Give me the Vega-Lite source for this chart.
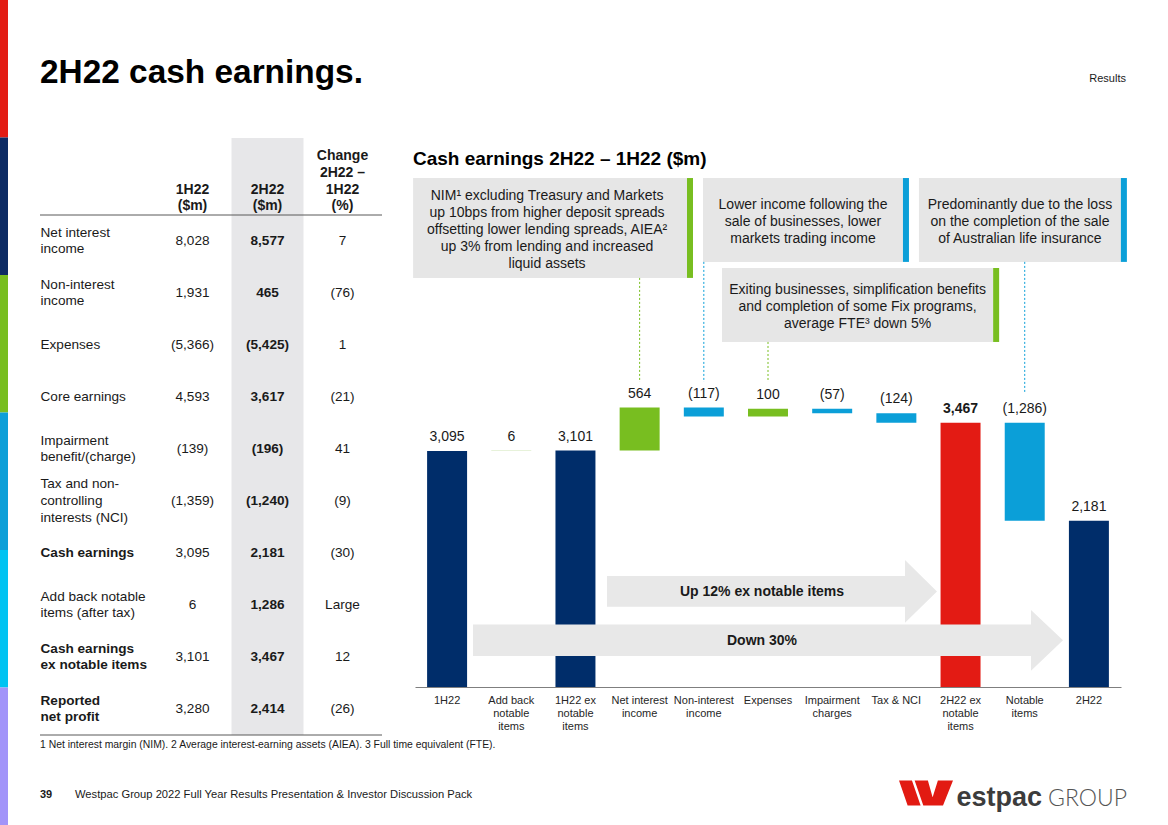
{
  "$schema": "https://vega.github.io/schema/vega-lite/v6.json",
  "background": "white",
  "padding": 0,
  "bounds": "flush",
  "spacing": 32,
  "resolve": {"scale": {"color": "independent"}},
  "config": {"view": {"stroke": null}, "font": "Liberation Sans"},
  "datasets": {
    "blank": [{}],
    "strip": [{"segment": "red"}, {"segment": "navy"}, {"segment": "green"}, {"segment": "blue"}, {"segment": "cyan"}, {"segment": "purple"}],
    "waterfall": [
      {"cat": "1H22", "lo": 0, "hi": 3095, "delta": 3095, "kind": "total"},
      {"cat": "Add back|notable|items", "lo": 3095, "hi": 3101, "delta": 6, "kind": "addback"},
      {"cat": "1H22 ex|notable|items", "lo": 0, "hi": 3101, "delta": 3101, "kind": "total"},
      {"cat": "Net interest|income", "lo": 3101, "hi": 3665, "delta": 564, "kind": "increase"},
      {"cat": "Non-interest|income", "lo": 3548, "hi": 3665, "delta": -117, "kind": "decrease"},
      {"cat": "Expenses", "lo": 3548, "hi": 3648, "delta": 100, "kind": "increase"},
      {"cat": "Impairment|charges", "lo": 3591, "hi": 3648, "delta": -57, "kind": "decrease"},
      {"cat": "Tax & NCI", "lo": 3467, "hi": 3591, "delta": -124, "kind": "decrease"},
      {"cat": "2H22 ex|notable|items", "lo": 0, "hi": 3467, "delta": 3467, "kind": "total ex notable"},
      {"cat": "Notable|items", "lo": 2181, "hi": 3467, "delta": -1286, "kind": "decrease"},
      {"cat": "2H22", "lo": 0, "hi": 2181, "delta": 2181, "kind": "total"}
    ],
    "table": [
      {"item": "Net interest|income", "h1": 8028, "h2": 8577, "chg": "7"},
      {"item": "Non-interest|income", "h1": 1931, "h2": 465, "chg": "(76)"},
      {"item": "Expenses", "h1": -5366, "h2": -5425, "chg": "1"},
      {"item": "Core earnings", "h1": 4593, "h2": 3617, "chg": "(21)"},
      {"item": "Impairment|benefit/(charge)", "h1": -139, "h2": -196, "chg": "41"},
      {"item": "Tax and non-|controlling|interests (NCI)", "h1": -1359, "h2": -1240, "chg": "(9)"},
      {"item": "Cash earnings", "h1": 3095, "h2": 2181, "chg": "(30)"},
      {"item": "Add back notable|items (after tax)", "h1": 6, "h2": 1286, "chg": "Large"},
      {"item": "Cash earnings|ex notable items", "h1": 3101, "h2": 3467, "chg": "12"},
      {"item": "Reported|net profit", "h1": 3280, "h2": 2414, "chg": "(26)"}
    ]
  },
  "hconcat": [
    {
      "width": 8,
      "height": 825,
      "data": {"name": "strip"},
      "mark": {"type": "rect"},
      "encoding": {
        "y": {"field": "segment", "type": "nominal", "sort": null, "scale": {"paddingInner": 0, "paddingOuter": 0}, "axis": null},
        "color": {"field": "segment", "type": "nominal", "scale": {"domain": ["red", "navy", "green", "blue", "cyan", "purple"], "range": ["#e31c13", "#0d2b64", "#78be20", "#0d9fd8", "#00c3f2", "#a294f9"]}, "legend": null}
      }
    },
    {
      "vconcat": [
        {
          "width": 1088,
          "height": 134,
          "layer": [
            {
              "data": {"values": [{"text": "2H22 cash earnings.", "side": "left"}]},
              "mark": {"type": "text", "align": "left", "baseline": "alphabetic", "fontSize": 33.4, "fontWeight": "bold", "color": "#000000", "dy": 16},
              "encoding": {
                "x": {"field": "side", "type": "nominal", "scale": {"type": "point", "domain": ["left", "right"], "padding": 0}, "axis": null},
                "text": {"field": "text"}
              }
            },
            {
              "data": {"values": [{"text": "Results", "side": "right"}]},
              "mark": {"type": "text", "align": "right", "baseline": "alphabetic", "fontSize": 11, "color": "#1a1a1a", "dy": 15, "dx": -2},
              "encoding": {
                "x": {"field": "side", "type": "nominal", "axis": null},
                "text": {"field": "text"}
              }
            }
          ]
        },
        {
          "hconcat": [
            {
              "width": 342,
              "height": 597,
              "layer": [
                {
                  "data": {"name": "blank"},
                  "mark": {"type": "rect", "color": "#e7e7e9"},
                  "encoding": {"x": {"datum": "h2", "type": "nominal"}}
                },
                {
                  "data": {"name": "blank"},
                  "mark": {"type": "rule", "color": "#595959", "strokeWidth": 1},
                  "encoding": {"y": {"datum": "Net interest|income", "type": "nominal", "bandPosition": 0}}
                },
                {
                  "data": {"name": "blank"},
                  "mark": {"type": "rule", "color": "#595959", "strokeWidth": 1},
                  "encoding": {"y": {"datum": "Reported|net profit", "type": "nominal", "bandPosition": 1}}
                },
                {
                  "data": {"name": "table"},
                  "mark": {"type": "text", "fontSize": 13.6, "color": "#1a1a1a", "baseline": "middle"},
                  "encoding": {
                    "x": {
                      "datum": "h1", "type": "nominal",
                      "scale": {"domain": ["h1", "h2", "chg"], "range": [115, 340], "paddingInner": 0.04, "paddingOuter": 0.02},
                      "axis": {
                        "orient": "top", "offset": -68, "title": null, "ticks": false, "domain": false, "labelAngle": 0, "labelAlign": "center",
                        "labelPadding": {"condition": {"test": "datum.value == 'chg'", "value": 50.1}, "value": 16.7},
                        "labelExpr": "datum.value == 'h1' ? ['1H22','($m)'] : datum.value == 'h2' ? ['2H22','($m)'] : ['Change','2H22 –','1H22','(%)']",
                        "labelFontSize": 14, "labelFontWeight": "bold", "labelColor": "#1a1a1a", "labelLineHeight": 16.7, "labelBaseline": "middle", "labelOverlap": false
                      }
                    },
                    "y": {
                      "field": "item", "type": "nominal",
                      "scale": {"domain": ["Net interest|income", "Non-interest|income", "Expenses", "Core earnings", "Impairment|benefit/(charge)", "Tax and non-|controlling|interests (NCI)", "Cash earnings", "Add back notable|items (after tax)", "Cash earnings|ex notable items", "Reported|net profit"], "range": [77, 597], "paddingInner": 0, "paddingOuter": 0},
                      "axis": {
                        "orient": "left", "title": null, "ticks": false, "domain": false, "labelAlign": "left", "labelPadding": 0,
                        "labelExpr": "split(datum.value, '|')", "labelFontSize": 13.6, "labelColor": "#1a1a1a", "labelLineHeight": 16.7, "labelBaseline": "middle", "labelOverlap": false,
                        "labelOffset": {"condition": [{"test": "length(split(datum.value, '|')) == 3", "value": -16.7}, {"test": "length(split(datum.value, '|')) == 2", "value": -8.35}], "value": 0},
                        "labelFontWeight": {"condition": {"test": "indexof(['Cash earnings','Cash earnings|ex notable items','Reported|net profit'], datum.value) >= 0", "value": "bold"}, "value": "normal"}
                      }
                    },
                    "text": {"field": "h1", "type": "quantitative", "format": "(,.0f"}
                  }
                },
                {
                  "data": {"name": "table"},
                  "mark": {"type": "text", "fontSize": 13.6, "fontWeight": "bold", "color": "#1a1a1a", "baseline": "middle"},
                  "encoding": {
                    "x": {"datum": "h2", "type": "nominal"},
                    "y": {"field": "item", "type": "nominal"},
                    "text": {"field": "h2", "type": "quantitative", "format": "(,.0f"}
                  }
                },
                {
                  "data": {"name": "table"},
                  "mark": {"type": "text", "fontSize": 13.6, "color": "#1a1a1a", "baseline": "middle"},
                  "encoding": {
                    "x": {"datum": "chg", "type": "nominal"},
                    "y": {"field": "item", "type": "nominal"},
                    "text": {"field": "chg", "type": "nominal"}
                  }
                }
              ]
            },
            {
              "width": 706,
              "height": 549,
              "title": {"text": "Cash earnings 2H22 – 1H22 ($m)", "anchor": "start", "frame": "group", "fontSize": 19, "fontWeight": "bold", "color": "#000000", "offset": -29, "baseline": "alphabetic", "dx": -2, "dy": 16.5},
              "layer": [
                {
                  "data": {"name": "blank"},
                  "mark": {"type": "rect", "color": "#e6e6e6"},
                  "encoding": {"x": {"datum": "1H22", "bandPosition": -0.35}, "x2": {"datum": "Non-interest|income", "bandPosition": 0.08}, "y": {"datum": 6675, "axis": null}, "y2": {"datum": 5365}}
                },
                {
                  "data": {"name": "blank"},
                  "mark": {"type": "rect", "color": "#78be20"},
                  "encoding": {"x": {"datum": "Non-interest|income", "bandPosition": 0.08}, "x2": {"datum": "Non-interest|income", "bandPosition": 0.23}, "y": {"datum": 6675, "axis": null}, "y2": {"datum": 5365}}
                },
                {
                  "data": {"name": "blank"},
                  "mark": {"type": "text", "text": ["NIM¹ excluding Treasury and Markets", "up 10bps from higher deposit spreads", "offsetting lower lending spreads, AIEA²", "up 3% from lending and increased", "liquid assets"], "fontSize": 14, "lineHeight": 16.9, "align": "center", "baseline": "middle", "color": "#1a1a1a"},
                  "encoding": {"x": {"datum": "1H22 ex|notable|items", "bandPosition": -0.21}, "y": {"datum": 6433, "axis": null}}
                },
                {
                  "data": {"name": "blank"},
                  "mark": {"type": "rule", "color": "#78be20", "strokeDash": [2, 2], "strokeWidth": 1},
                  "encoding": {"x": {"datum": "Net interest|income", "bandPosition": 0.5}, "y": {"datum": 5365, "axis": null}, "y2": {"datum": 4000}}
                },
                {
                  "data": {"name": "blank"},
                  "mark": {"type": "rect", "color": "#e6e6e6"},
                  "encoding": {"x": {"datum": "Non-interest|income", "bandPosition": 0.48}, "x2": {"datum": "Tax & NCI", "bandPosition": 0.665}, "y": {"datum": 6675, "axis": null}, "y2": {"datum": 5575}}
                },
                {
                  "data": {"name": "blank"},
                  "mark": {"type": "rect", "color": "#0b9fd8"},
                  "encoding": {"x": {"datum": "Tax & NCI", "bandPosition": 0.665}, "x2": {"datum": "Tax & NCI", "bandPosition": 0.815}, "y": {"datum": 6675, "axis": null}, "y2": {"datum": 5575}}
                },
                {
                  "data": {"name": "blank"},
                  "mark": {"type": "text", "text": ["Lower income following the", "sale of businesses, lower", "markets trading income"], "fontSize": 14, "lineHeight": 16.9, "align": "center", "baseline": "middle", "color": "#1a1a1a"},
                  "encoding": {"x": {"datum": "Impairment|charges", "bandPosition": -0.23}, "y": {"datum": 6321, "axis": null}}
                },
                {
                  "data": {"name": "blank"},
                  "mark": {"type": "rule", "color": "#0b9fd8", "strokeDash": [2, 2], "strokeWidth": 1},
                  "encoding": {"x": {"datum": "Non-interest|income", "bandPosition": 0.5}, "y": {"datum": 5575, "axis": null}, "y2": {"datum": 4000}}
                },
                {
                  "data": {"name": "blank"},
                  "mark": {"type": "rect", "color": "#e6e6e6"},
                  "encoding": {"x": {"datum": "2H22 ex|notable|items", "bandPosition": -0.54}, "x2": {"datum": "2H22", "bandPosition": 1.3}, "y": {"datum": 6675, "axis": null}, "y2": {"datum": 5575}}
                },
                {
                  "data": {"name": "blank"},
                  "mark": {"type": "rect", "color": "#0b9fd8"},
                  "encoding": {"x": {"datum": "2H22", "bandPosition": 1.3}, "x2": {"datum": "2H22", "bandPosition": 1.45}, "y": {"datum": 6675, "axis": null}, "y2": {"datum": 5575}}
                },
                {
                  "data": {"name": "blank"},
                  "mark": {"type": "text", "text": ["Predominantly due to the loss", "on the completion of the sale", "of Australian life insurance"], "fontSize": 14, "lineHeight": 16.9, "align": "center", "baseline": "middle", "color": "#1a1a1a"},
                  "encoding": {"x": {"datum": "Notable|items", "bandPosition": 0.38}, "y": {"datum": 6321, "axis": null}}
                },
                {
                  "data": {"name": "blank"},
                  "mark": {"type": "rule", "color": "#0b9fd8", "strokeDash": [2, 2], "strokeWidth": 1},
                  "encoding": {"x": {"datum": "Notable|items", "bandPosition": 0.5}, "y": {"datum": 5575, "axis": null}, "y2": {"datum": 3856}}
                },
                {
                  "data": {"name": "blank"},
                  "mark": {"type": "rect", "color": "#e6e6e6"},
                  "encoding": {"x": {"datum": "Non-interest|income", "bandPosition": 0.955}, "x2": {"datum": "Notable|items", "bandPosition": -0.29}, "y": {"datum": 5495, "axis": null}, "y2": {"datum": 4525}}
                },
                {
                  "data": {"name": "blank"},
                  "mark": {"type": "rect", "color": "#78be20"},
                  "encoding": {"x": {"datum": "Notable|items", "bandPosition": -0.29}, "x2": {"datum": "Notable|items", "bandPosition": -0.14}, "y": {"datum": 5495, "axis": null}, "y2": {"datum": 4525}}
                },
                {
                  "data": {"name": "blank"},
                  "mark": {"type": "text", "text": ["Exiting businesses, simplification benefits", "and completion of some Fix programs,", "average FTE³ down 5%"], "fontSize": 14, "lineHeight": 16.9, "align": "center", "baseline": "middle", "color": "#1a1a1a"},
                  "encoding": {"x": {"datum": "Tax & NCI", "bandPosition": -0.47}, "y": {"datum": 5207, "axis": null}}
                },
                {
                  "data": {"name": "blank"},
                  "mark": {"type": "rule", "color": "#78be20", "strokeDash": [2, 2], "strokeWidth": 1},
                  "encoding": {"x": {"datum": "Expenses", "bandPosition": 0.5}, "y": {"datum": 4525, "axis": null}, "y2": {"datum": 4000}}
                },
                {
                  "data": {"name": "waterfall"},
                  "mark": {"type": "bar"},
                  "encoding": {
                    "x": {
                      "field": "cat", "type": "nominal",
                      "scale": {"domain": ["1H22", "Add back|notable|items", "1H22 ex|notable|items", "Net interest|income", "Non-interest|income", "Expenses", "Impairment|charges", "Tax & NCI", "2H22 ex|notable|items", "Notable|items", "2H22"], "paddingInner": 0.377, "paddingOuter": 0.1885},
                      "axis": {"title": null, "labelExpr": "split(datum.value, '|')", "labelAngle": 0, "labelAlign": "center", "labelFontSize": 11, "labelColor": "#262626", "labelLineHeight": 13.3, "labelPadding": 7, "ticks": false, "domain": true, "domainColor": "#7f7f7f", "domainWidth": 1, "labelOverlap": false, "labelBaseline": "top"}
                    },
                    "y": {"field": "lo", "type": "quantitative", "scale": {"domain": [0, 7200], "nice": false, "zero": false}, "axis": null},
                    "y2": {"field": "hi"},
                    "color": {"field": "kind", "type": "nominal", "scale": {"domain": ["total", "addback", "increase", "decrease", "total ex notable"], "range": ["#002d6a", "#cfe5b5", "#78be20", "#0b9fd8", "#e31b14"]}, "legend": null}
                  }
                },
                {
                  "data": {"name": "waterfall"},
                  "transform": [{"filter": "datum.kind != 'total ex notable'"}],
                  "mark": {"type": "text", "fontSize": 14, "color": "#1a1a1a", "baseline": "middle", "dy": -14},
                  "encoding": {
                    "x": {"field": "cat", "type": "nominal"},
                    "y": {"field": "hi", "type": "quantitative", "axis": null},
                    "text": {"field": "delta", "type": "quantitative", "format": "(,.0f"}
                  }
                },
                {
                  "data": {"name": "waterfall"},
                  "transform": [{"filter": "datum.kind == 'total ex notable'"}],
                  "mark": {"type": "text", "fontSize": 14, "fontWeight": "bold", "color": "#1a1a1a", "baseline": "middle", "dy": -14},
                  "encoding": {
                    "x": {"field": "cat", "type": "nominal"},
                    "y": {"field": "hi", "type": "quantitative", "axis": null},
                    "text": {"field": "delta", "type": "quantitative", "format": "(,.0f"}
                  }
                },
                {
                  "data": {"name": "blank"},
                  "mark": {"type": "point", "filled": true, "opacity": 1, "color": "#e8e8e8", "strokeWidth": 0, "size": 348100, "shape": "M -1 -0.0534 L 0.8915 -0.0534 L 0.8915 -0.1029 L 1 0 L 0.8915 0.1029 L 0.8915 0.0534 L -1 0.0534 Z"},
                  "encoding": {"x": {"datum": "Expenses", "bandPosition": 0.5}, "y": {"datum": 612, "axis": null}}
                },
                {
                  "data": {"name": "blank"},
                  "mark": {"type": "point", "filled": true, "opacity": 1, "color": "#e8e8e8", "strokeWidth": 0, "size": 108900, "shape": "M -1 -0.093 L 0.806 -0.093 L 0.806 -0.19 L 1 0 L 0.806 0.19 L 0.806 0.093 L -1 0.093 Z"},
                  "encoding": {"x": {"datum": "Expenses", "bandPosition": 0.6}, "y": {"datum": 1254, "axis": null}}
                },
                {
                  "data": {"name": "blank"},
                  "mark": {"type": "text", "text": "Up 12% ex notable items", "fontSize": 14, "fontWeight": "bold", "color": "#1a1a1a", "baseline": "middle", "align": "center"},
                  "encoding": {"x": {"datum": "Expenses", "bandPosition": 0.35}, "y": {"datum": 1246, "axis": null}}
                },
                {
                  "data": {"name": "blank"},
                  "mark": {"type": "text", "text": "Down 30%", "fontSize": 14, "fontWeight": "bold", "color": "#1a1a1a", "baseline": "middle", "align": "center"},
                  "encoding": {"x": {"datum": "Expenses", "bandPosition": 0.35}, "y": {"datum": 603, "axis": null}}
                }
              ]
            }
          ],
          "spacing": 33,
          "bounds": "flush"
        },
        {
          "width": 1088,
          "height": 50,
          "layer": [
            {
              "data": {"values": [{"text": "1 Net interest margin (NIM). 2 Average interest-earning assets (AIEA). 3 Full time equivalent (FTE).", "side": "left", "line": "note"}]},
              "mark": {"type": "text", "align": "left", "baseline": "middle", "fontSize": 10.4, "color": "#1a1a1a"},
              "encoding": {
                "x": {"field": "side", "type": "nominal", "scale": {"type": "point", "domain": ["left", "right"], "padding": 0}, "axis": null},
                "y": {"field": "line", "type": "nominal", "scale": {"type": "point", "domain": ["note", "page"], "padding": 0}, "axis": null},
                "text": {"field": "text"}
              }
            },
            {
              "data": {"values": [{"text": "39", "side": "left", "line": "page"}]},
              "mark": {"type": "text", "align": "left", "baseline": "middle", "fontSize": 11, "fontWeight": "bold", "color": "#1a1a1a"},
              "encoding": {"x": {"field": "side", "type": "nominal", "axis": null}, "y": {"field": "line", "type": "nominal", "axis": null}, "text": {"field": "text"}}
            },
            {
              "data": {"values": [{"text": "Westpac Group 2022 Full Year Results Presentation & Investor Discussion Pack", "side": "left", "line": "page"}]},
              "mark": {"type": "text", "align": "left", "baseline": "middle", "fontSize": 11.2, "color": "#1a1a1a", "dx": 35},
              "encoding": {"x": {"field": "side", "type": "nominal", "axis": null}, "y": {"field": "line", "type": "nominal", "axis": null}, "text": {"field": "text"}}
            },
            {
              "data": {"values": [{"side": "right", "line": "page"}]},
              "mark": {"type": "point", "filled": true, "opacity": 1, "color": "#e21a12", "strokeWidth": 0, "size": 2916, "xOffset": -202, "yOffset": -2, "shape": "M -1 -0.46 L -0.52 -0.46 L -0.2 0.46 L -0.68 0.46 Z M -0.42 -0.46 L 0.07 -0.46 L 0.33 0.46 L -0.1 0.46 Z M 0.44 -0.46 L 1 -0.46 L 0.63 0.46 L 0.15 0.46 Z"},
              "encoding": {"x": {"field": "side", "type": "nominal", "axis": null}, "y": {"field": "line", "type": "nominal", "axis": null}}
            },
            {
              "data": {"values": [{"text": "estpac", "side": "right", "line": "page"}]},
              "mark": {"type": "text", "align": "right", "baseline": "alphabetic", "fontSize": 27, "fontWeight": "bold", "color": "#3c3c3c", "dx": -86, "dy": 11},
              "encoding": {"x": {"field": "side", "type": "nominal", "axis": null}, "y": {"field": "line", "type": "nominal", "axis": null}, "text": {"field": "text"}}
            },
            {
              "data": {"values": [{"text": "GROUP", "side": "right", "line": "page"}]},
              "mark": {"type": "text", "align": "right", "baseline": "alphabetic", "fontSize": 23, "font": "Lato", "fontWeight": 300, "color": "#555555", "dx": -1, "dy": 11},
              "encoding": {"x": {"field": "side", "type": "nominal", "axis": null}, "y": {"field": "line", "type": "nominal", "axis": null}, "text": {"field": "text"}}
            }
          ]
        }
      ],
      "spacing": 4,
      "bounds": "full"
    }
  ]
}
